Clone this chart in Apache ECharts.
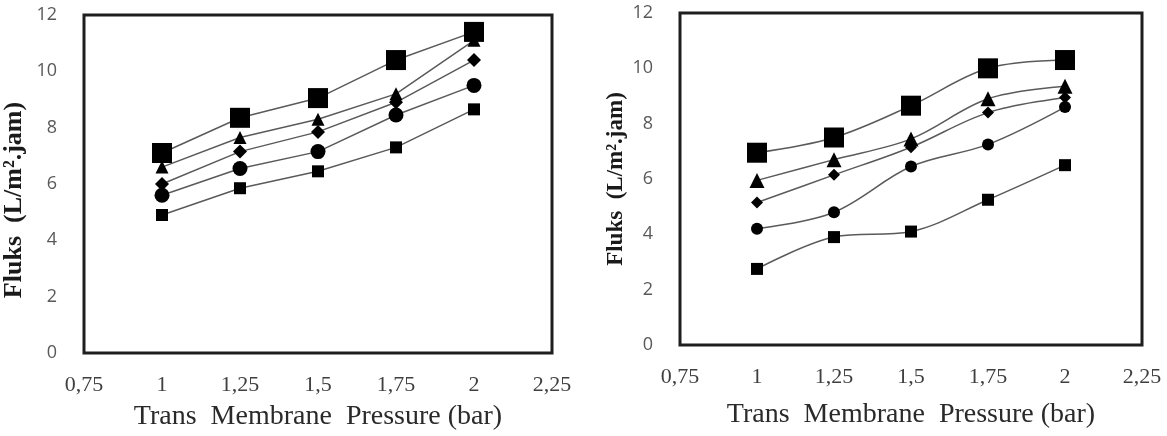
<!DOCTYPE html>
<html><head><meta charset="utf-8">
<script src="https://cdn.jsdelivr.net/npm/echarts@6/dist/echarts.min.js"></script>
<style>html,body{margin:0;padding:0;background:#fff}#c{width:1167px;height:436px}</style>
</head><body><div id="c"></div>
<script>
const pressure = [1, 1.25, 1.5, 1.75, 2];
const xTicks = [0.75, 1, 1.25, 1.5, 1.75, 2, 2.25];
const yTicks = [0, 2, 4, 6, 8, 10, 12];

// Left chart
const leftBigSquare   = [7.1, 8.35, 9.05, 10.4, 11.4];
const leftTriangle    = [6.6, 7.65, 8.3, 9.2, 11.1];
const leftDiamond     = [6.0, 7.15, 7.85, 8.9, 10.4];
const leftCircle      = [5.6, 6.55, 7.15, 8.45, 9.5];
const leftSmallSquare = [4.9, 5.85, 6.45, 7.3, 8.65];

// Right chart
const rightBigSquare   = [6.95, 7.5, 8.65, 10.0, 10.3];
const rightTriangle    = [5.95, 6.7, 7.45, 8.9, 9.35];
const rightDiamond     = [5.15, 6.15, 7.15, 8.4, 8.95];
const rightCircle      = [4.2, 4.8, 6.45, 7.25, 8.6];
const rightSmallSquare = [2.75, 3.9, 4.1, 5.25, 6.5];

const yTitle = 'Fluks  (L/m\u00B2.jam)';
const xTitle = 'Trans  Membrane  Pressure (bar)';

const pair = (ys) => pressure.map((x, i) => [x, ys[i]]);

function xAxis(gridIndex, gap) {
  return {
    type: 'value', gridIndex, min: xTicks[0], max: xTicks[xTicks.length - 1], interval: 0.25,
    axisLine: {show: false}, axisTick: {show: false}, splitLine: {show: false},
    axisLabel: {
      margin: 21, color: '#3f3f3f', fontFamily: 'Liberation Serif', fontSize: 22,
      formatter: v => String(Math.round(v * 100) / 100).replace('.', ',')
    },
    name: xTitle, nameLocation: 'middle', nameGap: gap,
    nameTextStyle: {color: '#2a2a2a', fontFamily: 'Liberation Serif', fontSize: 28}
  };
}
function yAxis(gridIndex, gap, size, pad) {
  return {
    type: 'value', gridIndex, min: yTicks[0], max: yTicks[yTicks.length - 1], interval: 2,
    axisLine: {show: false}, axisTick: {show: false}, splitLine: {show: false},
    axisLabel: {margin: 27, color: '#595959', fontFamily: 'Open Sans', fontSize: 18},
    name: yTitle, nameLocation: 'middle', nameGap: gap,
    nameTextStyle: {color: '#1a1a1a', fontFamily: 'Liberation Serif', fontWeight: 'bold', fontSize: size, padding: pad}
  };
}
function series(idx, data, symbol, size, smooth) {
  return {
    type: 'line', xAxisIndex: idx, yAxisIndex: idx, data: pair(data),
    symbol, symbolSize: size, smooth,
    lineStyle: {color: '#5a5a5a', width: 1.5},
    itemStyle: {color: '#000'}, silent: true, animation: false, z: 3
  };
}

const chart = echarts.init(document.getElementById('c'), null, {renderer: 'canvas'});
chart.setOption({
  animation: false,
  grid: [
    {left: 82, top: 15, width: 470, height: 338, show: true, borderColor: '#1e1e1e', borderWidth: 3, backgroundColor: '#fff'},
    {left: 680, top: 13, width: 462, height: 332, show: true, borderColor: '#1e1e1e', borderWidth: 3, backgroundColor: '#fff'}
  ],
  xAxis: [xAxis(0, 50), xAxis(1, 56)],
  yAxis: [yAxis(0, 57, 26, [0, 32, 0, 0]), yAxis(1, 52, 23, [0, 0, 0, 0])],
  series: [
    series(0, leftSmallSquare, 'rect', 12, false),
    series(0, leftCircle, 'circle', 15, false),
    series(0, leftDiamond, 'diamond', 14, false),
    series(0, leftTriangle, 'triangle', 13, false),
    series(0, leftBigSquare, 'rect', 20, false),
    series(1, rightSmallSquare, 'rect', 12, 0.35),
    series(1, rightCircle, 'circle', 12, 0.35),
    series(1, rightDiamond, 'diamond', 12, 0.35),
    series(1, rightTriangle, 'triangle', 15, 0.35),
    series(1, rightBigSquare, 'rect', 20, 0.35)
  ]
});
</script></body></html>
